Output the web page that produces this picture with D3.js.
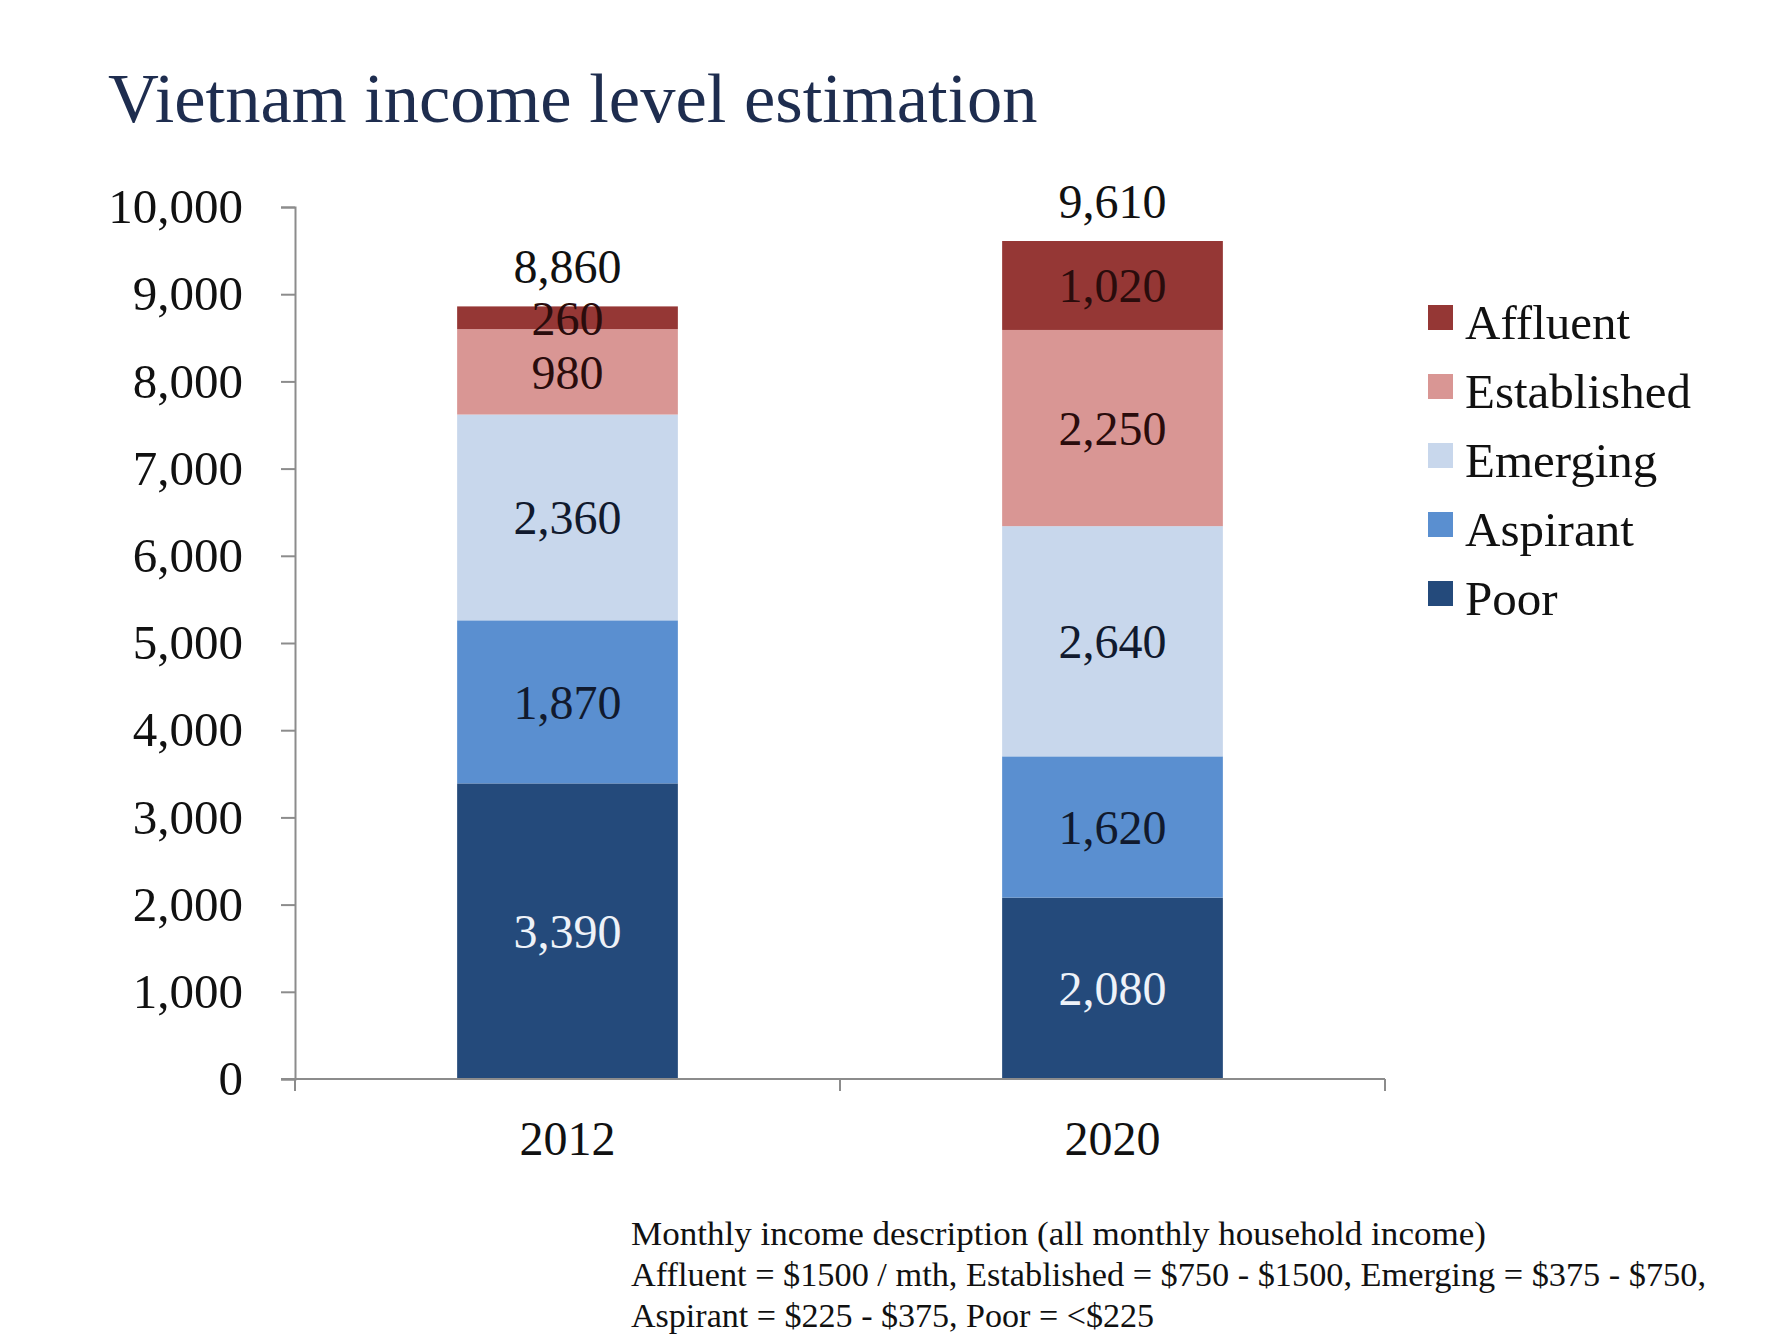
<!DOCTYPE html>
<html>
<head>
<meta charset="utf-8">
<script src="https://cdn.jsdelivr.net/npm/d3@7"></script>
<style>
  body { margin: 0; background: #fff; }
  svg text { font-family: "Liberation Serif", "DejaVu Serif", serif; }
</style>
</head>
<body>
<div id="chart"></div>
<script>
const years = ['2012', '2020']
const groups = ['Poor', 'Aspirant', 'Emerging', 'Established', 'Affluent']
const poor = [3390, 2080]
const aspirant = [1870, 1620]
const emerging = [2360, 2640]
const established = [980, 2250]
const affluent = [260, 1020]
const yTicks = [0, 1000, 2000, 3000, 4000, 5000, 6000, 7000, 8000, 9000, 10000]
const legendOrder = ['Affluent', 'Established', 'Emerging', 'Aspirant', 'Poor']
const notes = [
  'Monthly income description (all monthly household income)',
  'Affluent = $1500 / mth, Established = $750 - $1500, Emerging = $375 - $750,',
  'Aspirant = $225 - $375, Poor = <$225'
]

const colors = {
  Poor: '#244a7b',
  Aspirant: '#5a8fd0',
  Emerging: '#c8d7ec',
  Established: '#d99694',
  Affluent: '#953735'
}
const labelColors = {
  Poor: '#eef2f8',
  Aspirant: '#111a2e',
  Emerging: '#111a2e',
  Established: '#2a0c0c',
  Affluent: '#2a0c0c'
}

const width = 1792
const height = 1344
const margin = {left: 295, right: 407, top: 207, bottom: 265}

const rows = years.map((y, i) => ({
  year: y,
  Poor: poor[i], Aspirant: aspirant[i], Emerging: emerging[i],
  Established: established[i], Affluent: affluent[i]
}))
const totals = rows.map(r => d3.sum(groups, g => r[g]))

const svg = d3.select('#chart').append('svg')
  .attr('width', width)
  .attr('height', height)

svg.append('text')
  .attr('x', 108)
  .attr('y', 122)
  .attr('font-size', 70.5)
  .attr('fill', '#1e2d4f')
  .text('Vietnam income level estimation')

const x = d3.scaleBand()
  .domain(years)
  .range([margin.left, width - margin.right])
  .paddingInner(0.595)
  .paddingOuter(0.2975)

const y = d3.scaleLinear()
  .domain([0, 10000])
  .range([height - margin.bottom, margin.top])

const fmt = d3.format(',')

// bars
const stack = d3.stack().keys(groups)(rows)
const layers = svg.append('g').selectAll('g')
  .data(stack)
  .enter().append('g')
  .attr('fill', d => colors[d.key])

layers.selectAll('rect')
  .data(d => d)
  .enter().append('rect')
  .attr('x', d => x(d.data.year))
  .attr('width', x.bandwidth())
  .attr('y', d => y(d[1]))
  .attr('height', d => y(d[0]) - y(d[1]))

// segment labels
stack.forEach(layer => {
  svg.append('g').selectAll('text')
    .data(layer)
    .enter().append('text')
    .attr('x', d => x(d.data.year) + x.bandwidth() / 2)
    .attr('y', d => (y(d[0]) + y(d[1])) / 2)
    .attr('dy', '0.35em')
    .attr('text-anchor', 'middle')
    .attr('font-size', 48)
    .attr('fill', labelColors[layer.key])
    .text(d => fmt(d[1] - d[0]))
})

// totals
svg.append('g').selectAll('text')
  .data(years)
  .enter().append('text')
  .attr('x', d => x(d) + x.bandwidth() / 2)
  .attr('y', (d, i) => y(totals[i]) - 23)
  .attr('text-anchor', 'middle')
  .attr('font-size', 48)
  .attr('fill', '#111')
  .text((d, i) => fmt(totals[i]))

// y axis
const yAxis = svg.append('g')
  .attr('transform', `translate(${margin.left},0)`)
  .call(d3.axisLeft(y).tickValues(yTicks).tickFormat(fmt).tickSize(14).tickPadding(38))
yAxis.select('.domain').attr('stroke', '#8c8c8c').attr('stroke-width', 2)
yAxis.selectAll('.tick line').attr('stroke', '#8c8c8c').attr('stroke-width', 2)
yAxis.selectAll('.tick text')
  .attr('font-size', 49)
  .attr('font-family', '"Liberation Serif", serif')
  .attr('fill', '#111')

// x axis with ticks at band boundaries
const xAxis = svg.append('g')
  .attr('transform', `translate(0,${y(0)})`)
xAxis.append('line')
  .attr('x1', margin.left - 14)
  .attr('x2', width - margin.right)
  .attr('stroke', '#8c8c8c')
  .attr('stroke-width', 2)
const bounds = [margin.left, (x(years[0]) + x.bandwidth() + x(years[1])) / 2, width - margin.right]
xAxis.selectAll('line.tk')
  .data(bounds)
  .enter().append('line')
  .attr('class', 'tk')
  .attr('x1', d => d).attr('x2', d => d)
  .attr('y1', 0).attr('y2', 12)
  .attr('stroke', '#8c8c8c')
  .attr('stroke-width', 2)
xAxis.selectAll('text')
  .data(years)
  .enter().append('text')
  .attr('x', d => x(d) + x.bandwidth() / 2)
  .attr('y', 76)
  .attr('text-anchor', 'middle')
  .attr('font-size', 48)
  .attr('fill', '#111')
  .text(d => d)

// legend
const legend = svg.append('g').selectAll('g')
  .data(legendOrder)
  .enter().append('g')
  .attr('transform', (d, i) => `translate(1428,${323 + i * 69})`)
legend.append('rect')
  .attr('x', 0).attr('y', -18)
  .attr('width', 25).attr('height', 25)
  .attr('fill', d => colors[d])
legend.append('text')
  .attr('x', 37)
  .attr('y', 0)
  .attr('dy', '0.33em')
  .attr('font-size', 49)
  .attr('fill', '#111')
  .text(d => d)

// footnote
const noteWidths = [855, 1075, 523]
svg.append('g').selectAll('text')
  .data(notes)
  .enter().append('text')
  .attr('x', 631)
  .attr('y', (d, i) => 1245 + i * 41)
  .attr('font-size', 34)
  .attr('fill', '#111')
  .attr('textLength', (d, i) => noteWidths[i])
  .attr('lengthAdjust', 'spacingAndGlyphs')
  .text(d => d)
</script>
</body>
</html>
